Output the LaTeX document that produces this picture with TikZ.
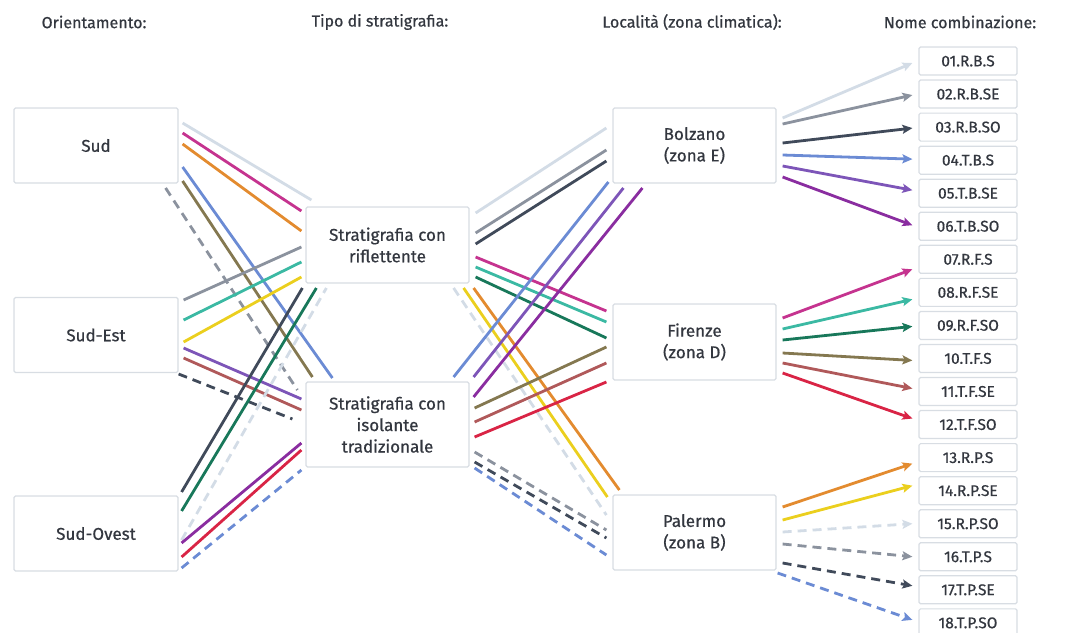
\documentclass[tikz,border=0pt]{standalone}
\usepackage{fontspec}
\setmainfont{Fira Sans}[FakeBold=0.6]
\usetikzlibrary{calc,arrows.meta}

\definecolor{bordo}{HTML}{D8DDE3}
\definecolor{testo}{HTML}{33373F}
\definecolor{c01}{HTML}{D3DCE6}
\definecolor{c02}{HTML}{8B929E}
\definecolor{c03}{HTML}{404A5A}
\definecolor{c04}{HTML}{6B8BD4}
\definecolor{c05}{HTML}{7D55B8}
\definecolor{c06}{HTML}{8A2DA0}
\definecolor{c07}{HTML}{C5338F}
\definecolor{c08}{HTML}{3BB9A3}
\definecolor{c09}{HTML}{18785A}
\definecolor{c10}{HTML}{847850}
\definecolor{c11}{HTML}{B0595A}
\definecolor{c12}{HTML}{D92445}
\definecolor{c13}{HTML}{E38B2F}
\definecolor{c14}{HTML}{EBCF1E}

\tikzset{
  cbox/.style={draw=bordo,line width=1.2pt,rounded corners=1.5pt,fill=white,
    minimum width=164pt,minimum height=75pt,align=center,text=testo,
    font=\fontsize{17}{21.5}\selectfont},
  nbox/.style={draw=bordo,line width=1.2pt,rounded corners=1.5pt,fill=white,
    minimum width=98pt,minimum height=28pt,text=testo,
    font=\fontsize{15.5}{17}\selectfont},
  titolo/.style={text=testo,font=\fontsize{16}{18}\selectfont},
  wire/.style={line width=2.8pt},
  tratt/.style={dash pattern=on 9pt off 6pt},
  freccia/.style={-{Stealth[length=10pt,width=9pt,inset=2pt]}}
}

\begin{document}
\begin{tikzpicture}[x=1pt,y=-1pt]
\useasboundingbox (0,0) rectangle (1068,632);

% titoli delle colonne
\node[titolo] (tor) at (94,22) {Orientamento:};
\node[titolo] (tst) at (380,22) {Tipo di stratigrafia:};
\node[titolo] (tlo) at (692,22) {Località (zona climatica):};
\node[titolo] (tno) at (960,22) {Nome combinazione:};

% orientamento
\node[cbox] (sud) at (96,145.5) {Sud};
\node[cbox] (se) at (96,335) {Sud-Est};
\node[cbox] (so) at (96,533.5) {Sud-Ovest};

% stratigrafia
\node[cbox,minimum width=163pt,minimum height=76pt] (rifl) at (387.5,245) {Stratigrafia con\\riflettente};
\node[cbox,minimum width=163pt,minimum height=85pt] (isol) at (387.5,424.5) {Stratigrafia con\\isolante\\tradizionale};

% localita
\node[cbox,minimum width=163pt] (bz) at (694.5,145.5) {Bolzano\\(zona E)};
\node[cbox,minimum width=163pt,minimum height=76pt] (fi) at (694.5,342) {Firenze\\(zona D)};
\node[cbox,minimum width=163pt] (pa) at (694.5,532.5) {Palermo\\(zona B)};

% nomi
\foreach \n [count=\i] in {01.R.B.S,02.R.B.SE,03.R.B.SO,04.T.B.S,05.T.B.SE,06.T.B.SO,
  07.R.F.S,08.R.F.SE,09.R.F.SO,10.T.F.S,11.T.F.SE,12.T.F.SO,
  13.R.P.S,14.R.P.SE,15.R.P.SO,16.T.P.S,17.T.P.SE,18.T.P.SO}
  \node[nbox] (n\i) at (968,{61+(\i-1)*33.05}) {\n};

% orientamento -> stratigrafia
\foreach \col/\pat/\a/\ax/\ay/\b/\bx/\by in {
  c01/solid/sud.east/4/-22.5/rifl.west/6/-45,
  c07/solid/sud.east/4/-12.5/rifl.west/-4/-34,
  c13/solid/sud.east/4/-1.5/rifl.west/-4/-14,
  c04/solid/sud.east/4/21.5/isol.west/27/-46.5,
  c10/solid/sud.east/4/35.5/isol.west/7/-47.5,
  c02/tratt/sud.east/-13/42.5/isol.west/-8/-34.5,
  c02/solid/se.east/5/-35/rifl.west/-4/2,
  c08/solid/se.east/5/-15/rifl.west/-4/17,
  c14/solid/se.east/5/7/rifl.west/-4/32,
  c05/solid/se.east/5/13/isol.west/-4/-25.5,
  c11/solid/se.east/5/23/isol.west/-4/-14.5,
  c03/tratt/se.east/0/39/isol.west/-13/-5.5,
  c03/solid/so.east/3/-41.5/rifl.west/-3/43,
  c09/solid/so.east/3/-22.5/rifl.west/11/43,
  c01/tratt/so.east/3/6.5/rifl.west/21/43,
  c06/solid/so.east/3/9.5/isol.west/-4/18.5,
  c12/solid/so.east/3/23.5/isol.west/-4/25.5,
  c04/tratt/so.east/3/34.5/isol.west/-4/45.5}
  \draw[wire,\col,\pat] ($(\a)+(\ax,\ay)$) -- ($(\b)+(\bx,\by)$);

% stratigrafia -> localita
\foreach \col/\pat/\a/\ax/\ay/\b/\bx/\by in {
  c01/solid/rifl.east/6/-32/bz.west/-6/-17.5,
  c02/solid/rifl.east/6/-12/bz.west/-6/4.5,
  c03/solid/rifl.east/6/-1/bz.west/-6/15.5,
  c07/solid/rifl.east/6/12/fi.west/-6/-31,
  c08/solid/rifl.east/6/22/fi.west/-6/-20,
  c09/solid/rifl.east/6/32/fi.west/-6/-4,
  c01/tratt/rifl.east/-16/43/pa.west/-6/-17.5,
  c14/solid/rifl.east/-6/43/pa.west/-5/-35.5,
  c13/solid/rifl.east/4/43/pa.west/7/-42.5,
  c04/solid/isol.east/-16/-47.5/bz.west/-4/36.5,
  c05/solid/isol.east/4/-47.5/bz.west/11/42.5,
  c06/solid/isol.east/4/-27.5/bz.west/30/42.5,
  c10/solid/isol.east/5/-16.5/fi.west/-6/5,
  c11/solid/isol.east/5/-2.5/fi.west/-6/21,
  c12/solid/isol.east/5/12.5/fi.west/-6/40,
  c02/tratt/isol.east/5/27.5/pa.west/-6/-2.5,
  c03/tratt/isol.east/5/37.5/pa.west/-6/5.5,
  c04/tratt/isol.east/5/43.5/pa.west/-6/22.5}
  \draw[wire,\col,\pat] ($(\a)+(\ax,\ay)$) -- ($(\b)+(\bx,\by)$);

% localita -> nome combinazione
\foreach \col/\pat/\a/\ax/\ay/\i/\by in {
  c01/solid/bz/6/-27.5/1/2, c02/solid/bz/6/-21.5/2/1,
  c03/solid/bz/6/-2.5/3/1, c04/solid/bz/6/9.5/4/-1,
  c05/solid/bz/6/20.5/5/-3, c06/solid/bz/6/31.5/6/-1,
  c07/solid/fi/6/-24/7/10, c08/solid/fi/6/-13/8/7,
  c09/solid/fi/6/-2/9/1, c10/solid/fi/6/11/10/2,
  c11/solid/fi/6/21/11/-3, c12/solid/fi/6/31/12/-6,
  c13/solid/pa/6/-25.5/13/6, c14/solid/pa/6/-12.5/14/-5,
  c01/tratt/pa/6/-0.5/15/0, c02/tratt/pa/6/11.5/16/0,
  c03/tratt/pa/6/30.5/17/-4, c04/tratt/pa/1/40.5/18/-3}
  \draw[wire,freccia,\col,\pat] ($(\a.east)+(\ax,\ay)$) -- ($(n\i.west)+(-6,\by)$);
\end{tikzpicture}
\end{document}
